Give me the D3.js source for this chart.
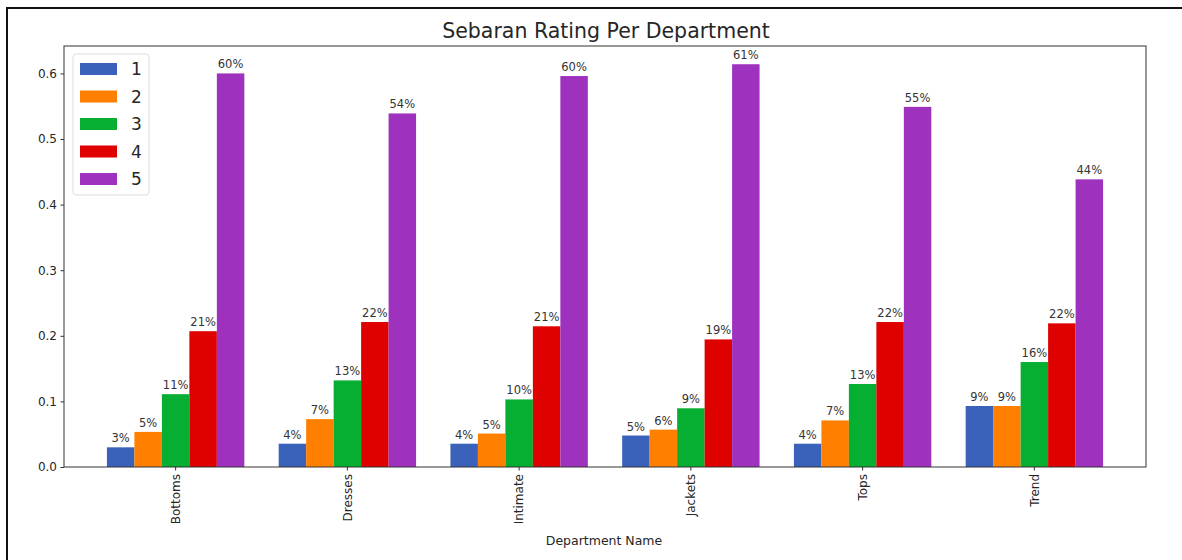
<!DOCTYPE html>
<html>
<head>
<meta charset="utf-8">
<script src="https://cdn.jsdelivr.net/npm/d3@7"></script>
<style>
  body { margin: 0; background: #fff; }
  text { font-family: "DejaVu Sans", sans-serif; fill: #262626; }
</style>
</head>
<body>
<div id="chart"></div>
<script>
// data
var departments = ["Bottoms", "Dresses", "Intimate", "Jackets", "Tops", "Trend"];
var ratings = ["1", "2", "3", "4", "5"];
var rating1 = [0.030, 0.0355, 0.0355, 0.048, 0.0355, 0.093];
var rating2 = [0.0535, 0.073, 0.051, 0.057, 0.071, 0.093];
var rating3 = [0.111, 0.132, 0.103, 0.0895, 0.1265, 0.160];
var rating4 = [0.207, 0.221, 0.2145, 0.1945, 0.221, 0.219];
var rating5 = [0.600, 0.539, 0.596, 0.614, 0.549, 0.4385];
var yTicks = [0.0, 0.1, 0.2, 0.3, 0.4, 0.5, 0.6];

var series = [rating1, rating2, rating3, rating4, rating5];
var colors = ["#3a62bb", "#ff8000", "#06ae32", "#df0000", "#9e32be"];

var W = 1182, H = 560;
var margin = { top: 46, right: 36, bottom: 93, left: 64 },
  width = W - margin.left - margin.right,
  height = H - margin.top - margin.bottom;

var root = d3.select("#chart")
  .append("svg")
  .attr("width", W)
  .attr("height", H);

// outer frame (screenshot border)
root.append("rect")
  .attr("x", 7).attr("y", 8)
  .attr("width", 1200).attr("height", 600)
  .style("fill", "none")
  .style("stroke", "#111")
  .style("stroke-width", 2);

var svg = root.append("g")
  .attr("transform", "translate(" + margin.left + "," + margin.top + ")");

// scales
var x = d3.scaleBand()
  .domain(departments)
  .range([0, width])
  .paddingInner(0.2)
  .paddingOuter(0.25);

var xSub = d3.scaleBand()
  .domain(ratings)
  .range([0, x.bandwidth()])
  .padding(0);

var y = d3.scaleLinear()
  .domain([0, 0.6418])
  .range([height, 0]);

// bars
var rows = [];
departments.forEach(function (dep, i) {
  ratings.forEach(function (r, j) {
    rows.push({ dep: dep, rating: r, value: series[j][i], color: colors[j] });
  });
});

svg.selectAll("rect.bar")
  .data(rows)
  .enter()
  .append("rect")
  .attr("class", "bar")
  .attr("x", function (d) { return x(d.dep) + xSub(d.rating); })
  .attr("y", function (d) { return y(d.value); })
  .attr("width", xSub.bandwidth())
  .attr("height", function (d) { return height - y(d.value); })
  .style("fill", function (d) { return d.color; });

// percentage labels
svg.selectAll("text.lbl")
  .data(rows)
  .enter()
  .append("text")
  .attr("class", "lbl")
  .attr("x", function (d) { return x(d.dep) + xSub(d.rating) + xSub.bandwidth() / 2; })
  .attr("y", function (d) { return y(d.value) - 5; })
  .attr("text-anchor", "middle")
  .style("font-size", "11.5px")
  .style("fill", "#333")
  .text(function (d) { return Math.round(d.value * 100) + "%"; });

// axes
var yAxis = svg.append("g")
  .call(d3.axisLeft(y).tickValues(yTicks).tickFormat(d3.format(".1f"))
    .tickSize(3.5).tickPadding(3.5).tickSizeOuter(0));
yAxis.selectAll("text").style("font-size", "12px");

var xAxis = svg.append("g")
  .attr("transform", "translate(0," + height + ")")
  .call(d3.axisBottom(x).tickSize(3.5).tickSizeOuter(0));
xAxis.selectAll("text")
  .style("font-size", "12px")
  .style("text-anchor", "end")
  .attr("transform", "rotate(-90)")
  .attr("x", -7)
  .attr("y", 0)
  .attr("dy", "0.35em");

svg.selectAll(".domain").remove();
svg.selectAll(".tick line").style("stroke", "#333");

// plot frame
svg.append("rect")
  .attr("width", width).attr("height", height)
  .style("fill", "none")
  .style("stroke", "#333")
  .style("stroke-width", 1);

// title and axis label
svg.append("text")
  .attr("x", width / 2 + 1).attr("y", -8)
  .attr("text-anchor", "middle")
  .style("font-size", "20.5px")
  .text("Sebaran Rating Per Department");

svg.append("text")
  .attr("x", width / 2 - 1).attr("y", height + 78)
  .attr("text-anchor", "middle")
  .style("font-size", "12.5px")
  .text("Department Name");

// legend
var legend = svg.append("g").attr("transform", "translate(9,8)");
legend.append("rect")
  .attr("width", 76).attr("height", 141)
  .attr("rx", 3)
  .style("fill", "#fff")
  .style("fill-opacity", 0.8)
  .style("stroke", "#ddd");

var items = legend.selectAll("g.item")
  .data(ratings)
  .enter()
  .append("g")
  .attr("class", "item")
  .attr("transform", function (d, i) { return "translate(0," + (15 + i * 27.5) + ")"; });

items.append("rect")
  .attr("x", 7).attr("y", -6)
  .attr("width", 37).attr("height", 12)
  .style("fill", function (d, i) { return colors[i]; });

items.append("text")
  .attr("x", 58).attr("y", 0)
  .attr("dy", "0.36em")
  .style("font-size", "17px")
  .text(function (d) { return d; });
</script>
</body>
</html>
